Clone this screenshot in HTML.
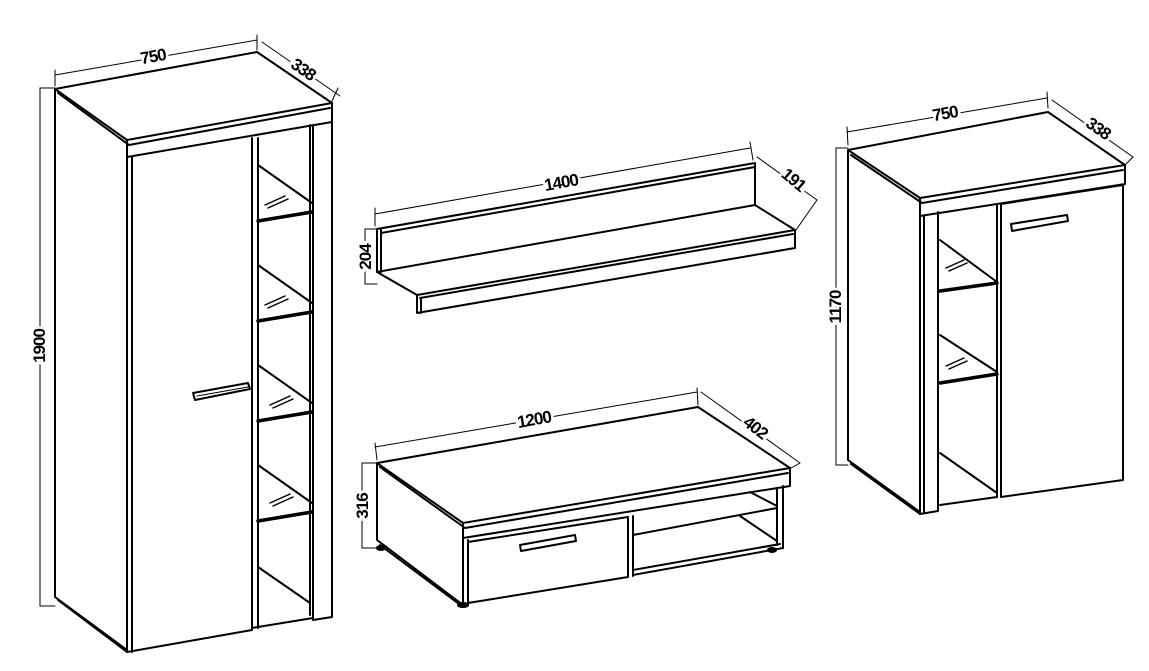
<!DOCTYPE html>
<html><head><meta charset="utf-8"><style>
html,body{margin:0;padding:0;background:#fff;width:1149px;height:671px;overflow:hidden}
svg{display:block}
text{font-family:"Liberation Sans",sans-serif;font-size:17px;font-weight:bold;fill:#000;stroke:#fff;stroke-width:5px;paint-order:stroke;letter-spacing:-1px}
</style></head><body>
<svg width="1149" height="671" viewBox="0 0 1149 671" xmlns="http://www.w3.org/2000/svg">
<g fill="none" stroke="#000" stroke-linejoin="round" stroke-linecap="round">

<!-- ===== Tall cabinet ===== -->
<g stroke-width="1">
<line x1="55" y1="75" x2="257" y2="40"/>
<line x1="55" y1="70" x2="55" y2="86"/>
<line x1="257" y1="35" x2="257" y2="50"/>
<line x1="262" y1="42" x2="340" y2="96"/>
<line x1="338" y1="88" x2="332" y2="101"/>
<line x1="40" y1="88" x2="55" y2="88"/>
<line x1="40" y1="88" x2="40" y2="606"/>
<line x1="40" y1="606" x2="55" y2="606"/>
</g>
<g stroke-width="2">
<polygon points="55,89 257,52 332,103 127,140" fill="#fff"/>
<polyline points="127,140 127,157 332,122 332,103"/>
<line x1="58" y1="93" x2="129" y2="145"/>
<line x1="129" y1="145" x2="330" y2="108"/>
<polyline points="55,89 55,597 127,650"/>
<line x1="58" y1="600" x2="127" y2="652"/>
<line x1="127" y1="140" x2="127" y2="652"/>
<line x1="132" y1="157" x2="132" y2="652"/>
<polyline points="127,652 252,630 252,138"/>
<line x1="258" y1="138" x2="258" y2="628"/>
<line x1="252" y1="628" x2="313" y2="618"/>
<polyline points="313,125 313,620 332,617 332,122"/>
<line x1="310" y1="125" x2="310" y2="615"/>
<line x1="258" y1="165" x2="312" y2="203"/>
<line x1="258" y1="265" x2="312" y2="303"/>
<line x1="258" y1="365" x2="312" y2="403"/>
<line x1="258" y1="465" x2="312" y2="503"/>
<line x1="258" y1="567" x2="310" y2="603"/>
</g>
<g stroke-width="3.5">
<line x1="258" y1="221" x2="312" y2="212"/>
<line x1="258" y1="321" x2="312" y2="312"/>
<line x1="258" y1="421" x2="312" y2="412"/>
<line x1="258" y1="521" x2="312" y2="512"/>
</g>
<g stroke-width="1.5">
<line x1="265" y1="205" x2="285" y2="196"/><line x1="268" y1="208" x2="288" y2="199"/>
<line x1="265" y1="305" x2="285" y2="296"/><line x1="268" y1="308" x2="288" y2="299"/>
<line x1="270" y1="405" x2="290" y2="396"/><line x1="273" y1="408" x2="293" y2="399"/>
<line x1="270" y1="503" x2="290" y2="494"/><line x1="273" y1="506" x2="293" y2="497"/>
</g>
<polygon points="193,393 248,383 250,389 195,400" stroke-width="2" fill="#fff"/>
<line x1="197" y1="396" x2="248" y2="387" stroke-width="1"/>

<!-- ===== Wall shelf ===== -->
<g stroke-width="1">
<line x1="375" y1="214" x2="750" y2="148"/>
<line x1="375" y1="208" x2="375" y2="226"/>
<line x1="750" y1="142" x2="753" y2="160"/>
<line x1="757" y1="157" x2="817" y2="200"/>
<line x1="817" y1="200" x2="796" y2="230"/>
<line x1="365" y1="229" x2="377" y2="229"/>
<line x1="365" y1="229" x2="365" y2="284"/>
<line x1="365" y1="284" x2="377" y2="284"/>
</g>
<g stroke-width="2">
<polygon points="377,229 755,163 755,205 377,272"/>
<line x1="381" y1="233" x2="755" y2="167"/>
<line x1="381" y1="229" x2="381" y2="272"/>
<polyline points="755,205 795,230 795,248 417,313 417,295 377,272"/>
<line x1="417" y1="295" x2="795" y2="230"/>
<line x1="420" y1="298" x2="793" y2="234"/>
<line x1="421" y1="298" x2="421" y2="313"/>
</g>

<!-- ===== TV stand ===== -->
<g stroke-width="1">
<line x1="375" y1="447" x2="697" y2="392"/>
<line x1="375" y1="443" x2="377" y2="460"/>
<line x1="697" y1="388" x2="698" y2="405"/>
<line x1="701" y1="392" x2="800" y2="463"/>
<line x1="800" y1="463" x2="791" y2="468"/>
<line x1="362" y1="463" x2="377" y2="463"/>
<line x1="362" y1="463" x2="362" y2="548"/>
<line x1="362" y1="548" x2="377" y2="548"/>
</g>
<g stroke-width="2">
<polygon points="377,463 698,407 790,468 463,523" fill="#fff"/>
<polyline points="463,523 463,538 790,486 790,468"/>
<line x1="380" y1="467" x2="465" y2="528"/>
<line x1="465" y1="528" x2="788" y2="473"/>
<polyline points="377,463 377,540 463,605"/>
<line x1="380" y1="545" x2="463" y2="607"/>
<line x1="463" y1="538" x2="463" y2="607"/>
<line x1="468" y1="540" x2="468" y2="605"/>
<polygon points="468,542 628,517 628,577 468,603"/>
<line x1="628" y1="517" x2="628" y2="577"/>
<line x1="633" y1="516" x2="633" y2="576"/>
<line x1="633" y1="535" x2="777" y2="508"/>
<line x1="633" y1="575" x2="783" y2="548"/>
<line x1="633" y1="570" x2="780" y2="544"/>
<line x1="783" y1="486" x2="783" y2="548"/>
<line x1="777" y1="488" x2="777" y2="545"/>
<line x1="750" y1="492" x2="777" y2="506"/>
<line x1="740" y1="516" x2="777" y2="541"/>
<ellipse cx="463" cy="605" rx="5" ry="2" fill="#000"/>
<ellipse cx="381" cy="548" rx="4" ry="2" fill="#000"/>
<ellipse cx="772" cy="550" rx="4" ry="2" fill="#000"/>
</g>
<polygon points="520,545 575,535 576,541 521,551" stroke-width="2" fill="#fff"/>

<!-- ===== Right cabinet ===== -->
<g stroke-width="1">
<line x1="847" y1="132" x2="1047" y2="98"/>
<line x1="847" y1="127" x2="848" y2="145"/>
<line x1="1047" y1="92" x2="1048" y2="108"/>
<line x1="1052" y1="100" x2="1133" y2="157"/>
<line x1="1133" y1="157" x2="1125" y2="165"/>
<line x1="836" y1="148" x2="848" y2="148"/>
<line x1="836" y1="148" x2="836" y2="465"/>
<line x1="836" y1="465" x2="848" y2="465"/>
</g>
<g stroke-width="2">
<polygon points="848,150 1048,112 1125,165 920,198" fill="#fff"/>
<polyline points="920,198 920,216 1125,184 1125,165"/>
<line x1="851" y1="155" x2="922" y2="203"/>
<line x1="922" y1="203" x2="1123" y2="170"/>
<polyline points="848,150 848,460 920,512"/>
<line x1="851" y1="464" x2="920" y2="514"/>
<line x1="920" y1="198" x2="920" y2="514"/>
<line x1="924" y1="216" x2="924" y2="512"/>
<line x1="938" y1="212" x2="938" y2="510"/>
<line x1="920" y1="514" x2="938" y2="511"/>
<line x1="997" y1="205" x2="997" y2="497"/>
<polygon points="1001,204 1123,185 1123,480 1001,497"/>
<line x1="940" y1="240" x2="997" y2="282"/>
<line x1="940" y1="335" x2="997" y2="372"/>
<line x1="940" y1="453" x2="997" y2="493"/>
<line x1="940" y1="505" x2="997" y2="497"/>
</g>
<g stroke-width="3.5">
<line x1="940" y1="291" x2="997" y2="283"/>
<line x1="940" y1="383" x2="997" y2="374"/>
</g>
<g stroke-width="1.5">
<line x1="946" y1="268" x2="964" y2="260"/><line x1="949" y1="271" x2="967" y2="263"/>
<line x1="946" y1="366" x2="964" y2="358"/><line x1="949" y1="369" x2="967" y2="361"/>
</g>
<polygon points="1011,224 1067,215 1068,221 1012,231" stroke-width="2" fill="#fff"/>
</g>

<!-- labels -->
<text x="154" y="62" text-anchor="middle" transform="rotate(-10 154 62)">750</text>
<text x="300" y="74" text-anchor="middle" transform="rotate(35 300 74)">338</text>
<text x="45" y="346" text-anchor="middle" transform="rotate(-90 45 346)">1900</text>
<text x="562" y="188" text-anchor="middle" transform="rotate(-10 562 188)">1400</text>
<text x="790" y="184" text-anchor="middle" transform="rotate(40 790 184)">191</text>
<text x="371" y="257" text-anchor="middle" transform="rotate(-90 371 257)">204</text>
<text x="535" y="425" text-anchor="middle" transform="rotate(-10 535 425)">1200</text>
<text x="752" y="432" text-anchor="middle" transform="rotate(38 752 432)">402</text>
<text x="368" y="506" text-anchor="middle" transform="rotate(-90 368 506)">316</text>
<text x="946" y="119" text-anchor="middle" transform="rotate(-10 946 119)">750</text>
<text x="1095" y="133" text-anchor="middle" transform="rotate(35 1095 133)">338</text>
<text x="841" y="307" text-anchor="middle" transform="rotate(-90 841 307)">1170</text>
</svg>
</body></html>
